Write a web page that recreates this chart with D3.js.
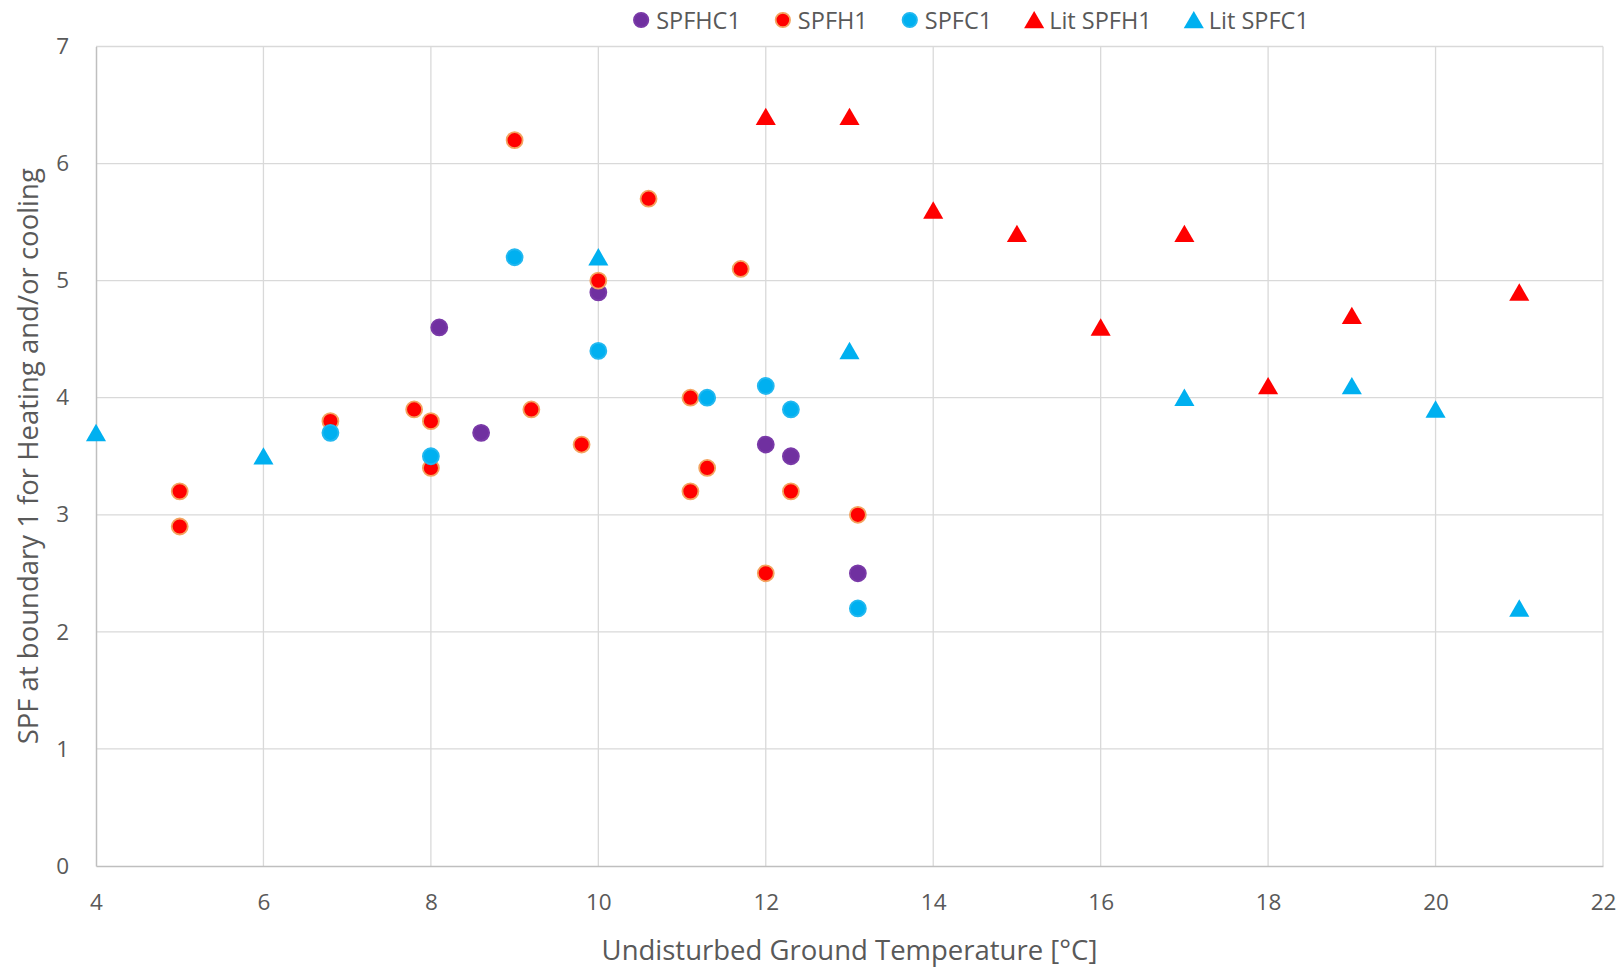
<!DOCTYPE html>
<html><head><meta charset="utf-8">
<script src="https://cdn.jsdelivr.net/npm/d3@7"></script>
<style>
html,body{margin:0;padding:0;background:#fff;}
svg{display:block;font-family:"Open Sans",sans-serif;}
</style></head>
<body><svg id="c" width="1621" height="969"></svg>
<script>
// ---- data ----
const seriesNames = ["SPFHC1","SPFH1","SPFC1","Lit SPFH1","Lit SPFC1"];
const spfhc1X = [8.1, 8.6, 10, 12, 12.3, 13.1];
const spfhc1Y = [4.6, 3.7, 4.9, 3.6, 3.5, 2.5];
const spfh1X = [5, 5, 6.8, 7.8, 8, 8, 9, 9.2, 9.8, 10, 10.6, 11.1, 11.1, 11.3, 11.7, 12, 12.3, 13.1];
const spfh1Y = [3.2, 2.9, 3.8, 3.9, 3.8, 3.4, 6.2, 3.9, 3.6, 5.0, 5.7, 4.0, 3.2, 3.4, 5.1, 2.5, 3.2, 3.0];
const spfc1X = [6.8, 8, 9, 10, 11.3, 12, 12.3, 13.1];
const spfc1Y = [3.7, 3.5, 5.2, 4.4, 4.0, 4.1, 3.9, 2.2];
const litSpfh1X = [12, 13, 14, 15, 16, 17, 18, 19, 21];
const litSpfh1Y = [6.4, 6.4, 5.6, 5.4, 4.6, 5.4, 4.1, 4.7, 4.9];
const litSpfc1X = [4, 6, 10, 13, 17, 19, 20, 21];
const litSpfc1Y = [3.7, 3.5, 5.2, 4.4, 4.0, 4.1, 3.9, 2.2];
const xTicks = [4, 6, 8, 10, 12, 14, 16, 18, 20, 22];
const yTicks = [0, 1, 2, 3, 4, 5, 6, 7];
const xTitle = "Undisturbed Ground Temperature [°C]";
const yTitle = "SPF at boundary 1 for Heating and/or cooling";

// ---- layout ----
const W = 1621, H = 969;
const m = {left: 96, right: 18, top: 46.5, bottom: 103};
const svg = d3.select("#c");
const x = d3.scaleLinear().domain([4, 22]).range([m.left, W - m.right]);
const y = d3.scaleLinear().domain([0, 7]).range([H - m.bottom, m.top]);

const styles = [
  {shape: "circle", fill: "#7030A0", stroke: "#7a3aa8"},
  {shape: "circle", fill: "#FF0000", stroke: "#F4A460"},
  {shape: "circle", fill: "#00B0F0", stroke: "#22b8f0"},
  {shape: "tri", fill: "#FF0000", stroke: "none"},
  {shape: "tri", fill: "#00B0F0", stroke: "none"}
];
const seriesData = [
  [spfhc1X, spfhc1Y], [spfh1X, spfh1Y], [spfc1X, spfc1Y], [litSpfh1X, litSpfh1Y], [litSpfc1X, litSpfc1Y]
].map(([xs, ys]) => xs.map((v, i) => ({x: v, y: ys[i]})));

// grid
const grid = svg.append("g");
grid.selectAll("line.v").data(xTicks.slice(1)).join("line")
  .attr("x1", d => x(d)).attr("x2", d => x(d))
  .attr("y1", y(7)).attr("y2", y(0))
  .attr("stroke", "#d9d9d9").attr("stroke-width", 1.3);
grid.selectAll("line.h").data(yTicks.slice(1)).join("line")
  .attr("x1", x(4)).attr("x2", x(22))
  .attr("y1", d => y(d)).attr("y2", d => y(d))
  .attr("stroke", "#d9d9d9").attr("stroke-width", 1.3);

// axes
const xAxis = svg.append("g").attr("transform", `translate(0,${y(0)})`)
  .call(d3.axisBottom(x).tickValues(xTicks).tickSize(0).tickPadding(28).tickFormat(d3.format("d")));
const yAxis = svg.append("g").attr("transform", `translate(${x(4)},0)`)
  .call(d3.axisLeft(y).tickValues(yTicks).tickSize(0).tickPadding(27).tickFormat(d3.format("d")));
[xAxis, yAxis].forEach(a => {
  a.select(".domain").attr("stroke", "#bfbfbf").attr("stroke-width", 1.5);
  a.selectAll("text").attr("fill", "#595959").style("font-size", "22.5px").style("font-family", "'Open Sans',sans-serif");
});

// titles
svg.append("text").attr("x", (x(4) + x(22)) / 2).attr("y", 960)
  .attr("text-anchor", "middle").attr("fill", "#595959").style("font-size", "27.5px").text(xTitle);
svg.append("text").attr("transform", `translate(38,${(y(0) + y(7)) / 2}) rotate(-90)`)
  .attr("text-anchor", "middle").attr("fill", "#595959").style("font-size", "27.5px").text(yTitle);

// marks
const R = 8;
const triPath = d3.symbol().type(d3.symbolTriangle).size(175);
function drawMark(sel, st) {
  if (st.shape === "circle") {
    sel.append("circle").attr("r", R).attr("fill", st.fill)
      .attr("stroke", st.stroke).attr("stroke-width", 1.8);
  } else {
    sel.append("path").attr("d", triPath()).attr("fill", st.fill)
      .attr("transform", "translate(0,2.5)");
  }
}
seriesData.forEach((pts, si) => {
  const g = svg.append("g");
  pts.forEach(p => {
    const mg = g.append("g").attr("transform", `translate(${x(p.x)},${y(p.y)})`);
    drawMark(mg, styles[si]);
  });
});

// legend
const leg = svg.append("g").attr("transform", "translate(0,20)");
const items = [];
seriesNames.forEach((n, i) => {
  const g = leg.append("g");
  const mk = g.append("g");
  drawMark(mk, styles[i]);
  if (styles[i].shape === "circle") mk.select("circle").attr("r", 7.2);
  const t = g.append("text").attr("x", 15).attr("y", 8.5).attr("fill", "#595959")
    .style("font-size", "23.5px").text(n);
  const w = 15 + t.node().getComputedTextLength();
  items.push({g, w});
});
const gap = 42;
const total = d3.sum(items, d => d.w) + gap * (items.length - 1);
let start = 967 - total / 2 + 8;
items.forEach(it => { it.g.attr("transform", `translate(${start},0)`); start += it.w + gap; });
</script></body></html>
